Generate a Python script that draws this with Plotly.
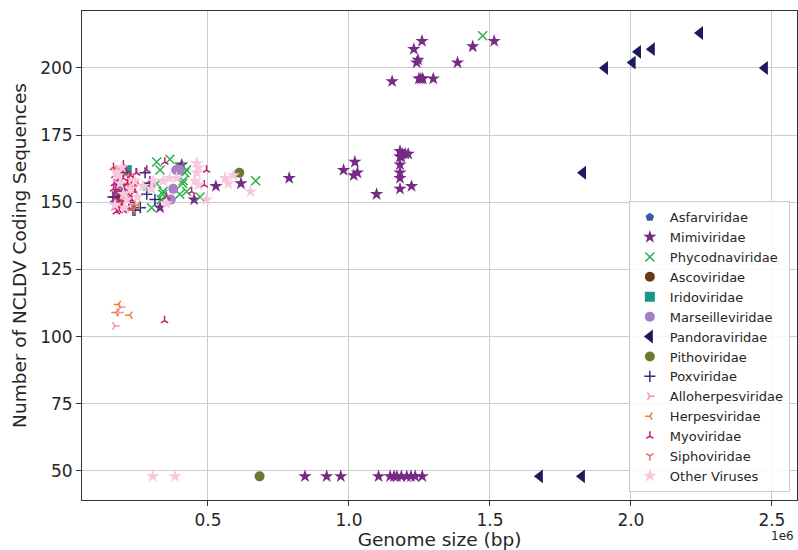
import plotly.graph_objects as go

# ---------------- data (genome size in Mbp, number of NCLDV coding sequences) ----------------
asfar_x = [0.180]
asfar_y = [157]

mimi_x = [1.153, 1.230, 1.259, 1.245, 1.240, 1.248, 1.255, 1.262, 1.299, 1.385, 1.439, 1.515,
          0.788, 0.981, 1.021, 1.030, 1.017, 1.098, 1.181, 1.190, 1.200, 1.210, 1.185, 1.181,
          1.181, 1.181, 1.181, 1.181, 1.222,
          0.407, 0.528, 0.617, 0.451, 0.330,
          0.844, 0.921, 0.971, 1.105, 1.146, 1.160, 1.170, 1.186, 1.205, 1.220, 1.235, 1.260]
mimi_y = [195, 207, 210, 203, 202, 196, 196, 196, 196, 202, 208, 210,
          159, 162, 165, 161, 160, 153, 169, 168, 168, 168, 167, 167,
          164, 161, 159, 155, 156,
          164, 156, 157, 151, 148,
          48, 48, 48, 48, 48, 48, 48, 48, 48, 48, 48, 48]

phyco_x = [1.474, 0.318, 0.365, 0.330, 0.318, 0.341, 0.300, 0.424, 0.412, 0.400, 0.335, 0.287,
           0.400, 0.472, 0.424, 0.340, 0.669, 0.418, 0.410]
phyco_y = [212, 165, 166, 162, 157, 154, 148, 162, 158, 153, 151, 156,
           163, 152, 154, 153, 158, 161, 157]

asco_x = [0.190]
asco_y = [152]

irido_x = [0.212, 0.190]
irido_y = [162, 155]

marseille_x = [0.387, 0.377, 0.368, 0.400]
marseille_y = [162, 155, 151, 162]

pandora_x = [2.245, 2.074, 2.025, 2.006, 1.908, 2.475, 1.830, 1.677, 1.826]
pandora_y = [213, 207, 206, 202, 200, 200, 161, 48, 48]

pitho_x = [0.611, 0.683]
pitho_y = [161, 48]

pox_x = [0.200, 0.163, 0.241, 0.283, 0.294, 0.312, 0.277, 0.234, 0.170, 0.220, 0.260]
pox_y = [161, 152, 147, 153, 157, 151, 161, 147, 152, 150, 148]

alloherpes_x = [0.190, 0.185, 0.170, 0.175, 0.200]
alloherpes_y = [111, 109, 104, 155, 150]

herpes_x = [0.182, 0.174, 0.223, 0.223, 0.200, 0.235, 0.210, 0.240, 0.190, 0.250, 0.215]
herpes_y = [112, 109, 108, 152, 148, 147, 157, 155, 150, 149, 160]

myo_x = [0.165, 0.170, 0.168, 0.172, 0.166, 0.170, 0.175, 0.180, 0.178, 0.182, 0.185, 0.190,
         0.190, 0.192, 0.195, 0.200, 0.200, 0.205, 0.208, 0.210, 0.215, 0.218, 0.220, 0.225,
         0.228, 0.230, 0.235, 0.240, 0.245, 0.250, 0.165, 0.175, 0.185, 0.195, 0.200,
         0.247, 0.283, 0.294, 0.347, 0.353, 0.442, 0.487, 0.495, 0.346]
myo_y = [163, 160, 157, 154, 151, 148, 162, 158, 155, 150, 147, 161,
         156, 152, 149, 164, 159, 155, 151, 162, 157, 153, 148, 160,
         156, 151, 158, 154, 161, 157, 155, 146.5, 153, 163, 147,
         161, 162, 158, 165, 152, 154, 156.5, 162, 106]

sipho_x = [0.190, 0.210, 0.230, 0.170]
sipho_y = [158, 153, 149, 162]

other_x = [0.466, 0.460, 0.454, 0.466, 0.495, 0.560, 0.572, 0.590, 0.651, 0.389, 0.365, 0.341,
           0.306, 0.300, 0.353, 0.200, 0.188, 0.176, 0.212, 0.460, 0.304, 0.383,
           0.170, 0.182, 0.195, 0.205, 0.225, 0.240, 0.250, 0.270]
other_y = [163, 161, 158, 156.5, 151, 159, 157, 160, 154, 159, 159, 158,
           158, 155, 149.6, 153, 157, 161, 151, 164.5, 48, 48,
           149, 160, 163, 148, 155, 158, 152, 156]

families = ["Asfarviridae", "Mimiviridae", "Phycodnaviridae", "Ascoviridae", "Iridoviridae",
            "Marseilleviridae", "Pandoraviridae", "Pithoviridae", "Poxviridae",
            "Alloherpesviridae", "Herpesviridae", "Myoviridae", "Siphoviridae", "Other Viruses"]

xs = [asfar_x, mimi_x, phyco_x, asco_x, irido_x, marseille_x, pandora_x, pitho_x, pox_x,
      alloherpes_x, herpes_x, myo_x, sipho_x, other_x]
ys = [asfar_y, mimi_y, phyco_y, asco_y, irido_y, marseille_y, pandora_y, pitho_y, pox_y,
      alloherpes_y, herpes_y, myo_y, sipho_y, other_y]

x_ticks = [0.5, 1.0, 1.5, 2.0, 2.5]
x_tick_labels = ["0.5", "1.0", "1.5", "2.0", "2.5"]
y_ticks = [50, 75, 100, 125, 150, 175, 200]

# ---------------- styles ----------------
colors = ["#3a5aa8", "#762a83", "#2ab04a", "#6b3a10", "#19968a", "#a680c6", "#1b1b5e",
          "#6b7a2f", "#2e2e7e", "#f08fc0", "#f47d36", "#c51b7d", "#f06a6a", "#f8c8dc"]
symbols = ["pentagon", "star", "x-thin-open", "circle", "square", "circle", "triangle-left",
           "circle", "cross-thin-open", "y-right-open", "y-left-open", "y-up-open",
           "y-down-open", "star"]
sizes = [9, 10, 9, 10, 10, 10, 12, 10, 8, 6, 6, 6, 6, 10]

fig = go.Figure()
for name, x, y, c, s, sz in zip(families, xs, ys, colors, symbols, sizes):
    open_sym = s.endswith("-open")
    fig.add_trace(go.Scatter(
        x=[v * 1e6 for v in x], y=y, mode="markers", name=name,
        marker=dict(symbol=s, size=sz, color=c,
                    line=dict(width=1.5 if open_sym else 0, color=c)),
    ))

axis_common = dict(
    showline=True, linecolor="#333333", linewidth=1, mirror=True,
    ticks="outside", ticklen=5, tickcolor="#333333", tickwidth=1,
    showgrid=True, gridcolor="#cccccc", gridwidth=1, zeroline=False,
    tickfont=dict(family="DejaVu Sans", size=17, color="#262626"),
)

fig.update_layout(
    width=798, height=550,
    margin=dict(l=82, r=1, t=11, b=50),
    paper_bgcolor="white", plot_bgcolor="white",
    font=dict(family="DejaVu Sans", color="#262626"),
    xaxis=dict(range=[0.0532e6, 2.589e6], tickvals=[v * 1e6 for v in x_ticks],
               ticktext=x_tick_labels,
               title=dict(text="Genome size (bp)", font=dict(size=18.5, family="DejaVu Sans"),
                          standoff=5),
               **axis_common),
    yaxis=dict(range=[39.2, 221.2], tickvals=y_ticks,
               title=dict(text="Number of NCLDV Coding Sequences",
                          font=dict(size=18.5, family="DejaVu Sans"), standoff=8),
               **axis_common),
    legend=dict(x=0.990, xanchor="right", y=0.016, yanchor="bottom",
                bgcolor="rgba(255,255,255,0.85)", bordercolor="#cccccc", borderwidth=1,
                font=dict(family="DejaVu Sans", size=13, color="#262626"),
                itemsizing="trace", tracegroupgap=0),
    showlegend=True,
)

fig.add_annotation(text="1e6", xref="paper", yref="paper", x=0.998, y=-0.056,
                   xanchor="right", yanchor="top", showarrow=False,
                   font=dict(family="DejaVu Sans", size=12, color="#262626"))

fig.write_html("out.html")
